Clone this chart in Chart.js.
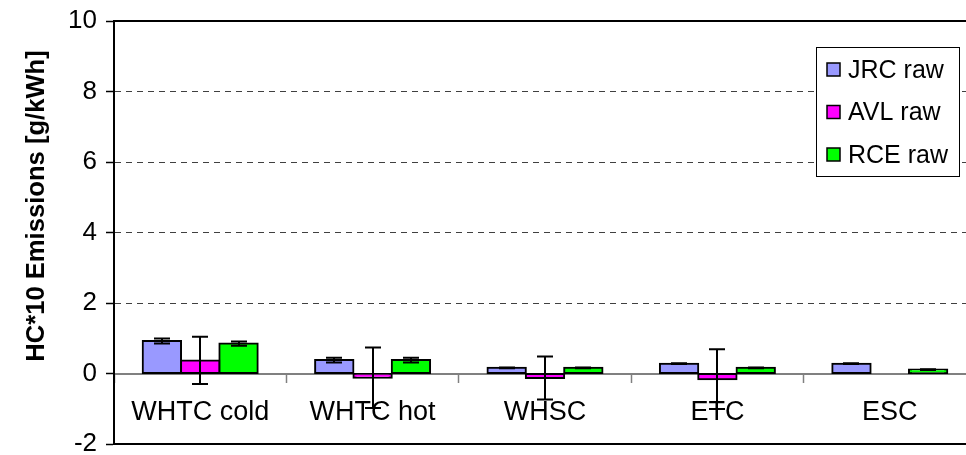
<!DOCTYPE html>
<html>
<head>
<meta charset="utf-8">
<script src="https://cdn.jsdelivr.net/npm/chart.js@4/dist/chart.umd.min.js"></script>
<style>
  html, body { margin: 0; padding: 0; overflow: hidden; background: #fff; }
  #wrap { width: 990px; height: 470px; }
</style>
</head>
<body>
<div id="wrap"><canvas id="c" width="990" height="470"></canvas></div>
<script>
// Test cycles and per-lab HC results (g/kWh, x10) with their spread
const categories = ['WHTC cold', 'WHTC hot', 'WHSC', 'ETC', 'ESC'];
const seriesNames = ['JRC raw', 'AVL raw', 'RCE raw'];
const jrcValues = [0.92, 0.38, 0.16, 0.28, 0.28];
const avlValues = [0.37, -0.12, -0.13, -0.16, null];
const rceValues = [0.85, 0.38, 0.16, 0.16, 0.11];
const jrcErrors = [0.07, 0.07, 0.01, 0.01, 0.01];
const avlErrors = [0.67, 0.86, 0.61, 0.85, null];
const rceErrors = [0.06, 0.07, 0.01, 0.01, 0.01];
const yMin = -2, yMax = 10, yStep = 2;
const yTitle = 'HC*10 Emissions [g/kWh]';

const seriesColors = ['#9999FF', '#FF00FF', '#00FF00'];
const seriesValues = [jrcValues, avlValues, rceValues];
const seriesErrors = [jrcErrors, avlErrors, rceErrors];
const FONT = '"Liberation Sans", Arial, sans-serif';

// Black frame along top and bottom of the plot area
const framePlugin = {
  id: 'frame',
  beforeDatasetsDraw(chart) {
    const { ctx, chartArea: a } = chart;
    ctx.save();
    ctx.strokeStyle = '#000';
    ctx.lineWidth = 2;
    ctx.beginPath();
    ctx.moveTo(a.left, a.top); ctx.lineTo(a.right, a.top);
    ctx.moveTo(a.left, a.bottom); ctx.lineTo(a.right, a.bottom);
    ctx.stroke();
    ctx.restore();
  }
};

// Symmetric error bars centred on each bar
const errorBarPlugin = {
  id: 'errorBars',
  afterDatasetsDraw(chart) {
    const { ctx } = chart;
    const ys = chart.scales.y;
    ctx.save();
    ctx.strokeStyle = '#000';
    ctx.lineWidth = 2;
    chart.data.datasets.forEach((ds, i) => {
      const meta = chart.getDatasetMeta(i);
      meta.data.forEach((bar, j) => {
        const v = ds.data[j];
        const e = ds.errors[j];
        if (v == null || e == null) return;
        const x = Math.round(bar.x);
        const yt = ys.getPixelForValue(v + e);
        const yb = ys.getPixelForValue(v - e);
        ctx.beginPath();
        ctx.moveTo(x, yt); ctx.lineTo(x, yb);
        ctx.moveTo(x - 8, yt); ctx.lineTo(x + 8, yt);
        ctx.moveTo(x - 8, yb); ctx.lineTo(x + 8, yb);
        ctx.stroke();
      });
    });
    ctx.restore();
  }
};

// Boxed legend in the upper right of the plot, plus the rotated axis title
const legendPlugin = {
  id: 'boxLegend',
  afterDraw(chart) {
    const { ctx } = chart;
    ctx.save();
    const bx = 816, by = 47, bw = 143, bh = 129;
    ctx.fillStyle = '#fff';
    ctx.fillRect(bx, by, bw, bh);
    ctx.strokeStyle = '#000';
    ctx.lineWidth = 1;
    ctx.strokeRect(bx + 0.5, by + 0.5, bw, bh);
    ctx.font = '25px ' + FONT;
    ctx.textBaseline = 'middle';
    chart.data.datasets.forEach((ds, i) => {
      const cy = 70 + i * 42.5;
      ctx.fillStyle = ds.backgroundColor;
      ctx.fillRect(827, cy - 7, 13, 13);
      ctx.strokeStyle = '#000';
      ctx.lineWidth = 1.5;
      ctx.strokeRect(827, cy - 7, 13, 13);
      ctx.fillStyle = '#000';
      ctx.fillText(ds.label, 848, cy + 1);
    });
    // y-axis title
    ctx.translate(37, 206);
    ctx.rotate(-Math.PI / 2);
    ctx.font = 'bold 25.6px ' + FONT;
    ctx.textAlign = 'center';
    ctx.textBaseline = 'middle';
    ctx.fillStyle = '#000';
    ctx.fillText(yTitle, 0, 0);
    ctx.restore();
  }
};

new Chart(document.getElementById('c'), {
  type: 'bar',
  data: {
    labels: categories,
    datasets: seriesNames.map((name, i) => ({
      label: name,
      data: seriesValues[i],
      errors: seriesErrors[i],
      backgroundColor: seriesColors[i],
      borderColor: '#000',
      borderWidth: 2,
      borderSkipped: false,
      inflateAmount: 1,
      categoryPercentage: 0.667,
      barPercentage: 1.0
    }))
  },
  options: {
    responsive: false,
    animation: false,
    devicePixelRatio: 1,
    layout: { padding: { left: 0, top: 21, right: 14, bottom: 26 } },
    plugins: { legend: { display: false }, tooltip: { enabled: false } },
    scales: {
      x: {
        position: { y: 0 },
        grid: {
          display: true,
          drawOnChartArea: false,
          drawTicks: true,
          tickLength: 8,
          tickColor: '#808080',
          tickWidth: 1.5,
          offset: true
        },
        border: { display: true, color: '#808080', width: 2 },
        ticks: {
          color: '#000',
          font: { family: FONT, size: 27 },
          padding: 15,
          maxRotation: 0,
          autoSkip: false
        }
      },
      y: {
        min: yMin,
        max: yMax,
        afterFit(scale) {
          scale.width = 114;
          scale.paddingTop = 0;
          scale.paddingBottom = 0;
        },
        grid: {
          color: (ctx) => {
            const v = ctx.tick ? ctx.tick.value : null;
            return (v === yMin || v === yMax || v === 0) ? 'rgba(0,0,0,0)' : '#404040';
          },
          lineWidth: 1,
          tickColor: '#000',
          tickLength: 8,
          tickWidth: 1.5
        },
        border: { display: true, color: '#000', width: 2, dash: [6, 5] },
        ticks: {
          stepSize: yStep,
          color: '#000',
          font: { family: FONT, size: 26 },
          padding: 9
        }
      }
    }
  },
  plugins: [framePlugin, errorBarPlugin, legendPlugin]
});
</script>
</body>
</html>
